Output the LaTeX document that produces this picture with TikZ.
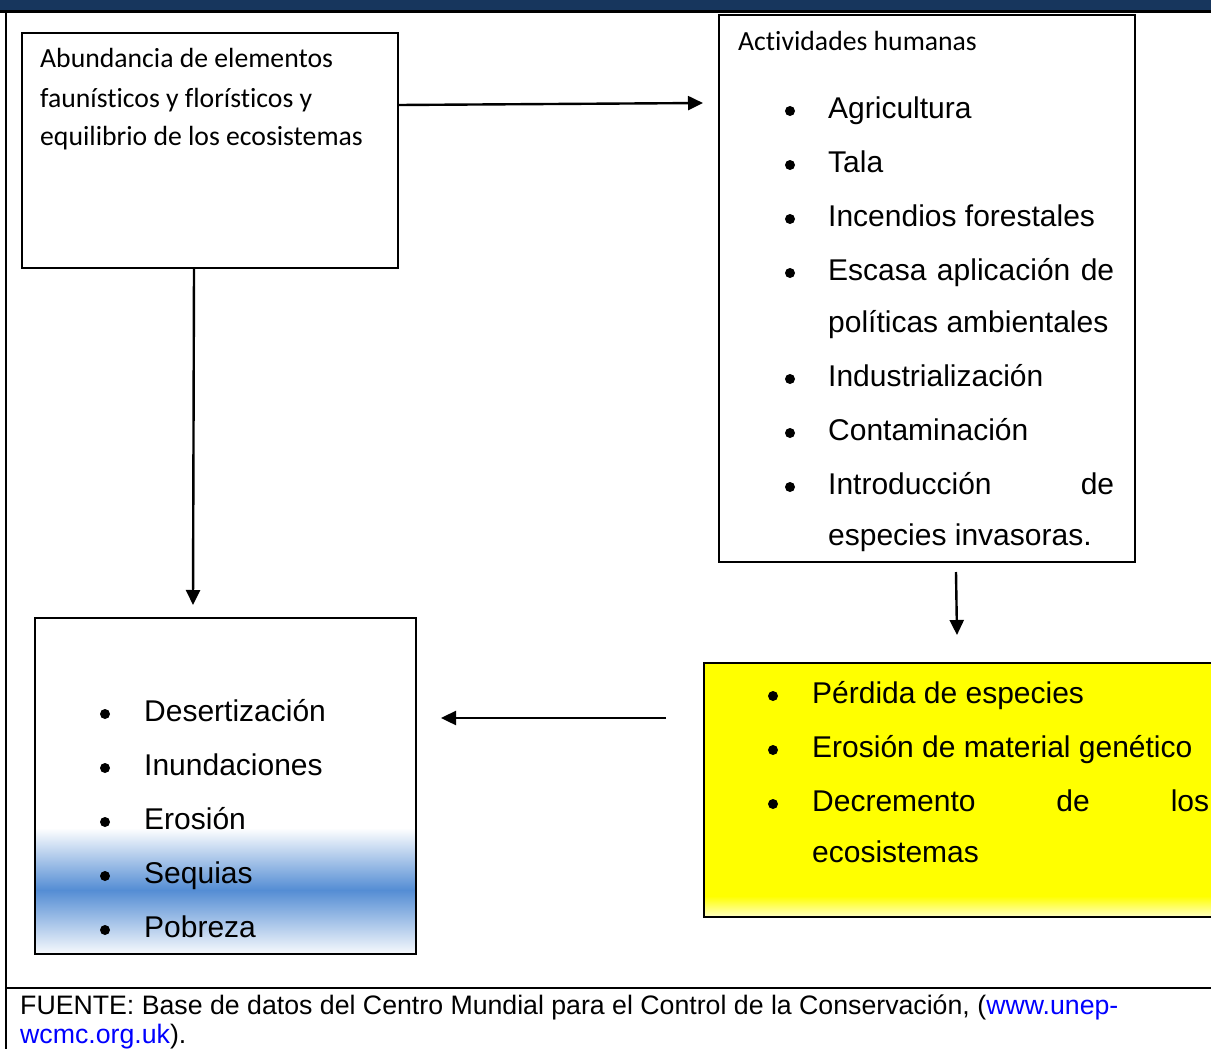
\documentclass[tikz,border=0pt]{standalone}
\usepackage{fontspec}
\setmainfont{Liberation Sans}
\newfontfamily\calib[Ligatures=NoCommon]{Carlito}
\usetikzlibrary{arrows.meta,calc}
\definecolor{navy}{RGB}{23,54,93}
\definecolor{wblue}{RGB}{84,141,212}
\definecolor{linkblue}{RGB}{0,0,255}
\definecolor{paleyel}{RGB}{255,255,190}
\definecolor{pureyel}{RGB}{255,255,0}
\begin{document}
\begin{tikzpicture}[x=1pt,y=-1pt,
 box/.style={draw=black,line width=2pt,anchor=north west,inner sep=0pt},
 arr/.style={line width=2.4pt,-{Triangle[length=15pt,width=14pt]}},
 lst/.style={font=\fontsize{30}{35}\selectfont,anchor=base west,inner sep=0pt},
 cal/.style={font=\calib\fontsize{27.7}{32}\selectfont,anchor=base west,inner sep=0pt},
 foot/.style={font=\fontsize{26.7}{30}\selectfont,anchor=base west,inner sep=0pt},
 bul/.style={circle,fill=black,inner sep=0pt,minimum size=10pt}]
\useasboundingbox (0,0) rectangle (1211,1049);
% frame
\fill[navy] (0,0) rectangle (1211,11);
\draw[line width=2.2pt] (0,11.5) -- (1211,11.5);
\draw[line width=2.4pt] (6,11) -- (6,1049);
\draw[line width=2.4pt] (6,988) -- (1211,988);
% box A
\node[box, minimum width=376pt, minimum height=235pt] (A) at (21,32) {};
\node[cal] (ta1) at (40,68) {Abundancia de elementos};
\node[cal] (ta2) at (40,107) {faunísticos y florísticos y};
\node[cal] (ta3) at (40,146) {equilibrio de los ecosistemas};
% box B
\node[box, minimum width=416pt, minimum height=547pt] (B) at (718,14) {};
\node[cal] (tb0) at (738,51) {Actividades humanas};
\node[bul] (bb1) at (790,111) {};
\node[lst] (tb1) at (828,118) {Agricultura};
\node[bul] (bb2) at (790,165) {};
\node[lst] (tb2) at (828,172) {Tala};
\node[bul] (bb3) at (790,219) {};
\node[lst] (tb3) at (828,226) {Incendios forestales};
\node[bul] (bb4) at (790,273) {};
\node[lst] (tb4) at (828,280) {\makebox[286pt][s]{Escasa aplicación de}};
\node[lst] (tb4b) at (828,332) {políticas ambientales};
\node[bul] (bb5) at (790,379) {};
\node[lst] (tb5) at (828,386) {Industrialización};
\node[bul] (bb6) at (790,433) {};
\node[lst] (tb6) at (828,440) {Contaminación};
\node[bul] (bb7) at (790,487) {};
\node[lst] (tb7) at (828,494) {\makebox[286pt][s]{Introducción de}};
\node[lst] (tb7b) at (828,545) {especies invasoras.};
% box C
\shade[top color=white,bottom color=wblue] (34,828) rectangle (415,890);
\shade[top color=wblue,bottom color=wblue!6] (34,890) rectangle (415,953);
\node[box, minimum width=381pt, minimum height=336pt] (C) at (34,617) {};
\node[bul] (bc1) at (105,714) {};
\node[lst] (tc1) at (144,721) {Desertización};
\node[bul] (bc2) at (105,768) {};
\node[lst] (tc2) at (144,775) {Inundaciones};
\node[bul] (bc3) at (105,822) {};
\node[lst] (tc3) at (144,829) {Erosión};
\node[bul] (bc4) at (105,876) {};
\node[lst] (tc4) at (144,883) {Sequias};
\node[bul] (bc5) at (105,930) {};
\node[lst] (tc5) at (144,937) {Pobreza};
% box D
\fill[pureyel] (703,662) rectangle (1213,916);
\shade[top color=pureyel,bottom color=paleyel] (703,896) rectangle (1213,916);
\node[box, minimum width=510pt, minimum height=254pt] (D) at (703,662) {};
\node[bul] (bd1) at (773,696) {};
\node[lst] (td1) at (812,703) {Pérdida de especies};
\node[bul] (bd2) at (773,750) {};
\node[lst] (td2) at (812,757) {Erosión de material genético};
\node[bul] (bd3) at (773,804) {};
\node[lst] (td3) at (812,811) {\makebox[397pt][s]{Decremento de los}};
\node[lst] (td3b) at (812,862) {ecosistemas};
% arrows
\coordinate (ab) at (703,103);
\draw[arr] ([yshift=-73pt]A.north east) -- (ab);
\coordinate (ac) at (193,605);
\draw[arr] ([xshift=-16pt]A.south) -- (ac);
\coordinate (bdA) at (956,572);
\coordinate (bdB) at (957,635);
\draw[arr] (bdA) -- (bdB);
\coordinate (dcA) at (666,718);
\coordinate (dcB) at (441,718);
\draw[arr] (dcA) -- (dcB);
% footer
\node[foot] (f1) at (20,1014) {FUENTE: Base de datos del Centro Mundial para el Control de la Conservación, (\textcolor{linkblue}{www.unep-}};
\node[foot] (f2) at (20,1043) {\textcolor{linkblue}{wcmc.org.uk}).};
\end{tikzpicture}
\end{document}
